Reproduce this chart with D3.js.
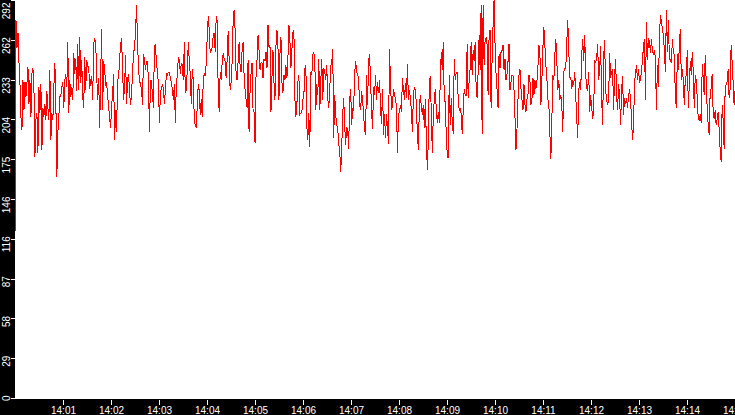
<!DOCTYPE html>
<html>
<head>
<meta charset="utf-8">
<script src="https://cdn.jsdelivr.net/npm/d3@7"></script>
<style>
  html, body { margin: 0; padding: 0; background: #fff; overflow: hidden; }
  svg { display: block; }
  .axis text { fill: #fff; font-family: "Liberation Sans", Arial, sans-serif; font-size: 10px; }
  .axis line { stroke: #fff; }
</style>
</head>
<body>
<div id="chart"></div>
<script>
// Readings, one every ~1.25 s from 14:00 to 14:15
const startLabel = "14:00";
const endLabel = "14:15";
const sampleStepMs = 1245;

const readings = [
  118,277,257,268,246,231,206,197,233,211,
  232,221,231,243,216,233,206,238,242,228,
  177,204,209,180,228,209,230,182,213,206,
  216,204,225,213,204,241,189,209,204,228,
  246,219,162,194,206,221,222,228,232,213,
  233,238,228,261,209,233,221,228,219,253,
  238,249,225,260,226,265,231,248,221,213,
  250,226,248,243,
  243,227,233,236,219,260,263,261,237,219,
  235,198,235,271,211,247,241,230,231,222,
  213,206,198,215,222,238,189,211,195,233,
  235,248,259,264,241,219,227,252,216,233,
  238,225,215,222,239,253,257,268,288,263,
  241,233,230,227,215,252,248,241,247,247,
  233,195,233,233,222,213,258,259,246,239,
  230,202,224,227,230,227,216,226,238,237,
  239,239,235,231,227,219,230,202,230,237,
  250,248,238,246,244,233,261,224,226,241,
  261,247,237,216,241,233,204,200,198,215,
  230,226,208,219,206,233,238,236,246,265,
  280,270,253,255,257,266,268,254,280,277,
  226,210,239,233,246,253,249,247,235,248,
  269,248,226,232,247,276,285,270,237,233,
  247,261,244,239,255,261,237,226,219,213,
  248,195,225,238,246,211,210,187,237,248,
  266,255,241,246,246,235,249,247,254,242,
  274,258,259,210,235,255,232,219,258,270,
  259,219,252,265,232,224,237,233,244,235,
  249,274,263,242,255,268,270,220,206,215,
  232,237,208,209,210,219,221,242,244,199,
  189,209,184,239,237,252,254,247,211,230,
  222,249,211,232,249,219,242,239,
  233,244,220,213,226,244,246,256,191,222,
  208,200,198,186,182,166,182,208,220,200,
  186,199,197,183,219,227,200,213,211,238,
  247,239,238,233,215,211,225,219,208,197,
  193,237,215,247,252,233,211,197,228,222,
  237,219,232,224,233,213,201,227,193,208,
  191,208,198,186,256,233,211,215,227,222,
  220,213,180,208,210,215,210,235,226,219,
  231,220,245,219,226,220,210,195,222,228,
  226,215,193,182,215,222,213,208,215,198,
  219,
  189,167,189,233,236,208,180,208,219,227,
  211,202,210,202,235,254,241,261,219,217,
  193,178,176,237,200,220,202,194,249,233,
  239,239,219,211,213,208,194,211,227,222,
  222,260,220,233,242,261,237,255,247,261,
  227,220,239,266,241,288,194,288,244,263,
  264,259,222,266,270,213,248,274,292,259,
  237,226,213,252,242,254,255,259,241,249,
  233,238,247,260,226,232,237,236,226,206,
  182,197,219,237,241,227,219,211,230,215,
  210,219,222,237,233,215,219,235,222,233,
  227,232,242,259,254,
  215,233,257,272,259,244,235,219,215,195,
  175,204,237,233,252,263,248,226,233,219,
  222,215,195,239,242,242,261,277,255,235,
  235,227,233,230,239,222,205,191,226,232,
  226,252,263,247,266,237,227,226,239,210,
  222,213,205,211,247,246,249,260,233,241,
  258,220,200,249,263,226,219,215,219,253,
  235,239,241,211,236,249,222,211,230,222,
  200,226,236,208,220,216,220,213,221,227,
  219,204,189,200,230,239,244,233,241,232,
  233,241,247,259,263,219,276,
  248,264,261,253,263,255,252,255,249,211,
  244,228,264,281,276,271,266,255,239,285,
  254,277,249,248,246,263,254,252,220,213,
  252,241,259,271,233,241,233,215,235,237,
  255,213,230,247,237,254,239,213,237,233,
  220,205,204,208,202,245,235,222,252,232,
  211,200,193,226,227,238,208,205,211,200,
  205,210,197,182,173,215,204,183,227,230,
  232,241,220,227,259,247,232,215,226
];

const yMax = 292;
const yTickValues = [0, 29.2, 58.4, 87.6, 116.8, 146, 175.2, 204.4, 233.6, 262.8, 292];
const yTickLabels = ["0", "29", "58", "87", "116", "146", "175", "204", "233", "262", "292"];
const xTickLabels = ["14:01", "14:02", "14:03", "14:04", "14:05", "14:06", "14:07", "14:08",
                     "14:09", "14:10", "14:11", "14:12", "14:13", "14:14", "14:15"];

function drawChart() {
  const width = 735;
  const height = 415;
  const margin = { top: 0, right: 0, bottom: 17, left: 15 };
  const plot_bottom = height - margin.bottom;   // 398

  const parseClock = d3.timeParse("%H:%M");
  const t0 = parseClock(startLabel);

  const canvas = d3.select("#chart")
    .append("svg")
    .attr("width", width)
    .attr("height", height);

  canvas.append("rect")
    .attr("width", width).attr("height", height)
    .attr("fill", "#fff");

  // SCALES
  const xScale = d3.scaleTime()
    .domain([t0, parseClock(endLabel)])
    .range([margin.left, width - margin.right]);

  const yScale = d3.scaleLinear()
    .domain([0, yMax])
    .range([plot_bottom, margin.top]);

  // black axis bands
  canvas.append("rect")
    .attr("x", 0).attr("y", 0)
    .attr("width", margin.left).attr("height", height)
    .attr("fill", "#000");

  canvas.append("rect")
    .attr("x", 0).attr("y", plot_bottom + 1)
    .attr("width", width).attr("height", height - plot_bottom - 1)
    .attr("fill", "#000");

  // LINE
  canvas.append("clipPath")
    .attr("id", "plot-clip")
    .append("rect")
    .attr("x", margin.left).attr("y", 0)
    .attr("width", width - margin.left).attr("height", plot_bottom + 1);

  const lineGen = d3.line()
    .x((d, i) => xScale(new Date(t0.getTime() + i * sampleStepMs)))
    .y(d => yScale(d));

  canvas.append("path")
    .datum(readings)
    .attr("clip-path", "url(#plot-clip)")
    .attr("d", lineGen)
    .attr("fill", "none")
    .attr("stroke", "#ff0000")
    .attr("stroke-width", 1)
    .attr("shape-rendering", "crispEdges");

  // X AXIS
  const xAxis = canvas.append("g")
    .attr("class", "axis x-axis")
    .attr("transform", `translate(0,${plot_bottom + 2})`)
    .call(d3.axisBottom(xScale)
      .tickValues(xTickLabels.map(parseClock))
      .tickFormat((d, i) => xTickLabels[i])
      .tickSize(5)
      .tickPadding(2));
  xAxis.select(".domain").remove();
  xAxis.selectAll("line").attr("shape-rendering", "crispEdges");

  // Y AXIS — rotated labels ending just above their tick
  const yAxis = canvas.append("g")
    .attr("class", "axis y-axis")
    .attr("transform", `translate(${margin.left},0)`)
    .call(d3.axisLeft(yScale)
      .tickValues(yTickValues)
      .tickFormat((d, i) => yTickLabels[i])
      .tickSize(4));
  yAxis.select(".domain").remove();
  yAxis.selectAll("line").attr("shape-rendering", "crispEdges");
  yAxis.selectAll("text")
    .attr("x", null)
    .attr("dy", null)
    .attr("text-anchor", "end")
    .attr("transform", d => `translate(-5,${Math.max(-3, 2 - yScale(d))}) rotate(-90)`);
}

drawChart();
</script>
</body>
</html>
